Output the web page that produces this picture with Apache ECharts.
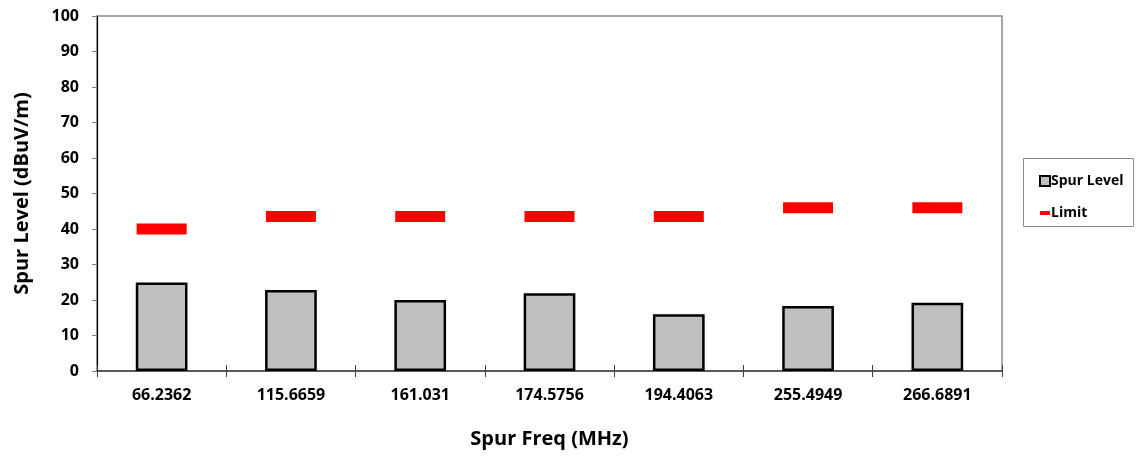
<!DOCTYPE html>
<html>
<head>
<meta charset="utf-8">
<script src="https://cdn.jsdelivr.net/npm/echarts@6/dist/echarts.min.js"></script>
<style>
html,body{margin:0;padding:0;background:#fff;}
#chart{width:1140px;height:456px;}
</style>
</head>
<body>
<div id="chart"></div>
<script>
const categories = ['66.2362','115.6659','161.031','174.5756','194.4063','255.4949','266.6891'];
const spurLevel = [24.9, 22.8, 20.0, 21.9, 16.0, 18.3, 19.2];
const limitValues = [40, 43.5, 43.5, 43.5, 43.5, 46, 46];
const yTicks = [0, 10, 20, 30, 40, 50, 60, 70, 80, 90, 100];

const FONT = '"Open Sans", "Noto Sans", sans-serif';
const chart = echarts.init(document.getElementById('chart'));
chart.setOption({
  animation: false,
  backgroundColor: '#fff',
  textStyle: { fontFamily: FONT },
  grid: { left: 97, right: 138, top: 16, bottom: 85, show: true, borderColor: '#8a8a8a', borderWidth: 1.5, backgroundColor: 'transparent' },
  graphic: [{
    type: 'rect', left: 1023, top: 158,
    shape: { width: 110, height: 68 },
    style: { fill: '#fff', stroke: '#8a8a8a', lineWidth: 1 }
  }],
  legend: [{
    data: [{ name: 'Spur Level', icon: 'rect' }], left: 1034, top: 169, itemWidth: 10, itemHeight: 10, itemGap: 0,
    textStyle: { fontFamily: FONT, fontWeight: 'bold', fontSize: 14, color: '#000', padding: [0,0,0,-4] }
  }, {
    data: [{ name: 'Limit', icon: 'rect' }], left: 1035, top: 201, itemWidth: 10, itemHeight: 4, itemGap: 0,
    textStyle: { fontFamily: FONT, fontWeight: 'bold', fontSize: 14, color: '#000', padding: [0,0,0,-4] }
  }],
  xAxis: [{
    type: 'category', data: categories, position: 'bottom',
    name: 'Spur Freq (MHz)', nameLocation: 'middle', nameGap: 58,
    nameTextStyle: { fontFamily: FONT, fontWeight: 'bold', fontSize: 20, color: '#000' },
    axisLine: { lineStyle: { color: '#404040', width: 1.5 } },
    axisTick: { show: true, length: 6, lineStyle: { color: '#404040' } },
    axisLabel: { fontFamily: FONT, fontWeight: 'bold', fontSize: 16, color: '#000', margin: 16 },
    splitLine: { show: false }
  }, {
    type: 'category', data: categories, position: 'bottom',
    axisLine: { show: false },
    axisTick: { show: true, inside: true, length: 6, lineStyle: { color: '#404040' } },
    axisLabel: { show: false },
    splitLine: { show: false }
  }],
  yAxis: {
    type: 'value', min: 0, max: 100, interval: 10,
    name: 'Spur Level (dBuV/m)', nameLocation: 'middle', nameGap: 65,
    nameTextStyle: { fontFamily: FONT, fontWeight: 'bold', fontSize: 20, color: '#000' },
    axisLine: { show: true, lineStyle: { color: '#000', width: 1.2 } },
    axisTick: { show: true, length: 5, lineStyle: { color: '#808080' } },
    axisLabel: { fontFamily: FONT, fontWeight: 'bold', fontSize: 16, color: '#000', margin: 18,
      formatter: v => yTicks.includes(v) ? String(v) : '' },
    splitLine: { show: false }
  },
  series: [{
    name: 'Spur Level', type: 'bar', data: spurLevel, barWidth: '40%',
    itemStyle: { color: '#c0c0c0', borderColor: '#000', borderWidth: 2.5 }
  }, {
    name: 'Limit', type: 'scatter', data: limitValues,
    symbol: 'rect', symbolSize: [50, 11],
    itemStyle: { color: '#ff0000', opacity: 1 }
  }]
});
</script>
</body>
</html>
